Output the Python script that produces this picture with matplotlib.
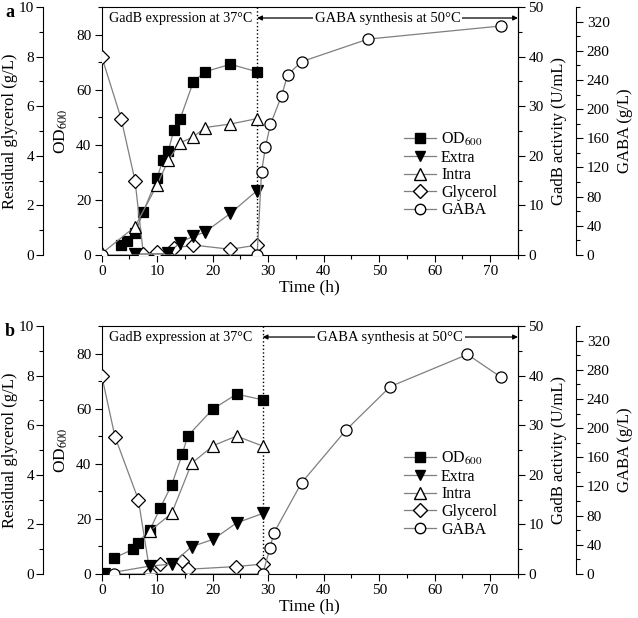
import matplotlib as mpl
import matplotlib.pyplot as plt
from matplotlib.lines import Line2D
from matplotlib.ticker import MultipleLocator
mpl.use('Agg')

plt.rcParams['font.family'] = ['Liberation Serif', 'DejaVu Serif']
plt.rcParams['mathtext.fontset'] = 'stix'
plt.rcParams['font.size'] = 11

# ---- panel a ----
a_od_t = [3.5, 4.5, 6, 7.5, 10, 11, 12, 13, 14.1, 16.5, 18.6, 23.2, 28]
a_od = [3.6, 5.2, 7.9, 15.7, 28, 34.4, 37.8, 45.3, 49.2, 62.8, 66.5, 69.2, 66.5]
a_extra_t = [6, 12, 14.1, 16.5, 18.6, 23.2, 28]
a_extra = [0.2, 0.3, 2.5, 3.8, 4.6, 8.4, 13.0]
a_intra_t = [0, 6, 10, 12, 14.1, 16.5, 18.6, 23.2, 28]
a_intra = [0.3, 5.7, 14.2, 19.1, 22.6, 23.8, 25.7, 26.4, 27.5]
a_gly_t = [0, 3.5, 6, 7.5, 10, 13, 16.5, 23.2, 28]
a_gly = [8.0, 5.5, 3.0, 0.05, 0.13, 0.27, 0.4, 0.23, 0.4]
a_gaba_t = [0, 28, 28.8, 29.5, 30.4, 32.4, 33.5, 36, 48, 72]
a_gaba = [0, 0, 114, 148, 179, 218, 247, 265, 296, 314]
a_shift = 28

# ---- panel b ----
b_od_t = [2.3, 5.6, 6.5, 8.7, 10.5, 12.6, 14.5, 15.5, 20, 24.3, 29]
b_od = [5.9, 8.9, 11.4, 16, 23.8, 32.3, 43.4, 50.1, 59.8, 65.3, 63.2]
b_extra_t = [0.4, 8.7, 12.6, 16.2, 20.1, 24.3, 29]
b_extra = [0, 1.6, 2.0, 5.5, 7.0, 10.3, 12.2]
b_intra_t = [8.7, 12.6, 16.2, 20.1, 24.3, 29]
b_intra = [8.7, 12.2, 22.3, 25.9, 27.8, 25.8]
b_gly_t = [0, 2.4, 6.6, 8.7, 10.5, 14.5, 15.5, 24.2, 29]
b_gly = [8.0, 5.53, 3.0, 0.05, 0.4, 0.54, 0.19, 0.3, 0.4]
b_gaba_t = [2.2, 29, 30.3, 31, 36, 44.1, 52, 65.9, 71.9]
b_gaba = [0, 0, 35, 56, 125, 198, 257, 301, 270]
b_shift = 29

labels = ['OD$_{600}$', 'Extra', 'Intra', 'Glycerol', 'GABA']
line_col = '#7f7f7f'


def style_ticks(a, pad=2.5):
    a.tick_params(axis='y', which='major', direction='out', length=5, width=0.8, labelsize=11, pad=pad)
    a.tick_params(axis='y', which='minor', direction='out', length=3, width=0.8)


def draw_panel(rect, tag, od_t, od, ex_t, ex, in_t, inn, gl_t, gl, ga_t, ga, shift):
    ax = fig.add_axes(rect)
    ax_g = ax.twinx()
    ax_act = ax.twinx()
    ax_gaba = ax.twinx()

    # glycerol axis moved to the outer left
    ax_g.yaxis.set_ticks_position('left')
    ax_g.yaxis.set_label_position('left')
    ax_g.spines['left'].set_position(('outward', 42))
    for s in ['right', 'top', 'bottom']:
        ax_g.spines[s].set_visible(False)
    ax_gaba.spines['right'].set_position(('outward', 42))
    for s in ['left', 'top', 'bottom']:
        ax_gaba.spines[s].set_visible(False)
    for s in ['left', 'right', 'top', 'bottom']:
        ax_act.spines[s].set_visible(s == 'right')

    mk = dict(color=line_col, lw=0.9, markeredgecolor='black', markeredgewidth=0.9)
    ax.plot(od_t, od, marker='s', markerfacecolor='black', markersize=7.5, **mk)
    ax_act.plot(ex_t, ex, marker='v', markerfacecolor='black', markersize=8, **mk)
    ax_act.plot(in_t, inn, marker='^', markerfacecolor='white', markersize=8.5, **mk)
    ax_g.plot(gl_t, gl, marker='D', markerfacecolor='white', markersize=7, **mk)
    ax_gaba.plot(ga_t, ga, marker='o', markerfacecolor='white', markersize=8, **mk)

    ax.set_xlim(0, 75)
    ax.set_ylim(0, 90)
    ax_g.set_ylim(0, 10)
    ax_act.set_ylim(0, 50)
    ax_gaba.set_ylim(0, 340)

    ax.xaxis.set_major_locator(MultipleLocator(10))
    ax.xaxis.set_minor_locator(MultipleLocator(5))
    ax.yaxis.set_major_locator(MultipleLocator(20))
    ax.yaxis.set_minor_locator(MultipleLocator(10))
    ax_g.yaxis.set_major_locator(MultipleLocator(2))
    ax_g.yaxis.set_minor_locator(MultipleLocator(1))
    ax_act.yaxis.set_major_locator(MultipleLocator(10))
    ax_act.yaxis.set_minor_locator(MultipleLocator(5))
    ax_gaba.yaxis.set_major_locator(MultipleLocator(40))
    ax_gaba.yaxis.set_minor_locator(MultipleLocator(20))
    ax.tick_params(axis='x', which='major', direction='out', length=5, width=0.8, labelsize=11, pad=2.5)
    ax.tick_params(axis='x', which='minor', direction='out', length=3, width=0.8)
    ax.tick_params(axis='y', which='both', right=False)
    style_ticks(ax)
    style_ticks(ax_g, pad=1.5)
    style_ticks(ax_act)
    style_ticks(ax_gaba)

    ax.set_xlabel('Time (h)', fontsize=12.5, labelpad=1)
    ax.set_ylabel('OD$_{600}$', fontsize=12.5, labelpad=4)
    ax_g.set_ylabel('Residual glycerol (g/L)', fontsize=12, labelpad=1)
    ax_act.set_ylabel('GadB activity (U/mL)', fontsize=12, labelpad=5)
    ax_gaba.set_ylabel('GABA (g/L)', fontsize=12, labelpad=5)

    # phase marker and annotations
    ax.axvline(shift, color='black', ls=':', lw=1)
    ax.text(1.3, 86, 'GadB expression at 37°C', fontsize=10.2, ha='left', va='center')
    ax.annotate('', xy=(shift, 86), xytext=(75, 86),
                arrowprops=dict(arrowstyle='<|-|>', color='black', lw=0.9,
                                mutation_scale=7, shrinkA=0, shrinkB=0))
    ax.text((shift + 75) / 2, 86, 'GABA synthesis at 50°C', fontsize=10.5,
            ha='center', va='center', bbox=dict(facecolor='white', edgecolor='none', pad=1.5))

    handles = [
        Line2D([0], [0], color=line_col, lw=0.9, marker='s', markerfacecolor='black', markeredgecolor='black', markersize=7),
        Line2D([0], [0], color=line_col, lw=0.9, marker='v', markerfacecolor='black', markeredgecolor='black', markersize=7),
        Line2D([0], [0], color=line_col, lw=0.9, marker='^', markerfacecolor='white', markeredgecolor='black', markersize=8),
        Line2D([0], [0], color=line_col, lw=0.9, marker='D', markerfacecolor='white', markeredgecolor='black', markersize=7),
        Line2D([0], [0], color=line_col, lw=0.9, marker='o', markerfacecolor='white', markeredgecolor='black', markersize=7.5),
    ]
    ax_gaba.legend(handles, labels, loc='upper left', bbox_to_anchor=(0.7, 0.545),
                   frameon=False, fontsize=11.5, handlelength=2.0, handletextpad=0.3,
                   labelspacing=0.1, borderpad=0.2)
    fig.text(0.008, rect[1] + rect[3] + 0.005, tag, fontsize=13, fontweight='bold', va='top')


fig = plt.figure(figsize=(6.38, 6.18), dpi=100)
draw_panel([0.1594, 0.5874, 0.6525, 0.4013], 'a', a_od_t, a_od, a_extra_t, a_extra,
           a_intra_t, a_intra, a_gly_t, a_gly, a_gaba_t, a_gaba, a_shift)
draw_panel([0.1594, 0.0712, 0.6525, 0.4013], 'b', b_od_t, b_od, b_extra_t, b_extra,
           b_intra_t, b_intra, b_gly_t, b_gly, b_gaba_t, b_gaba, b_shift)
fig.savefig('out.png', dpi=100)
